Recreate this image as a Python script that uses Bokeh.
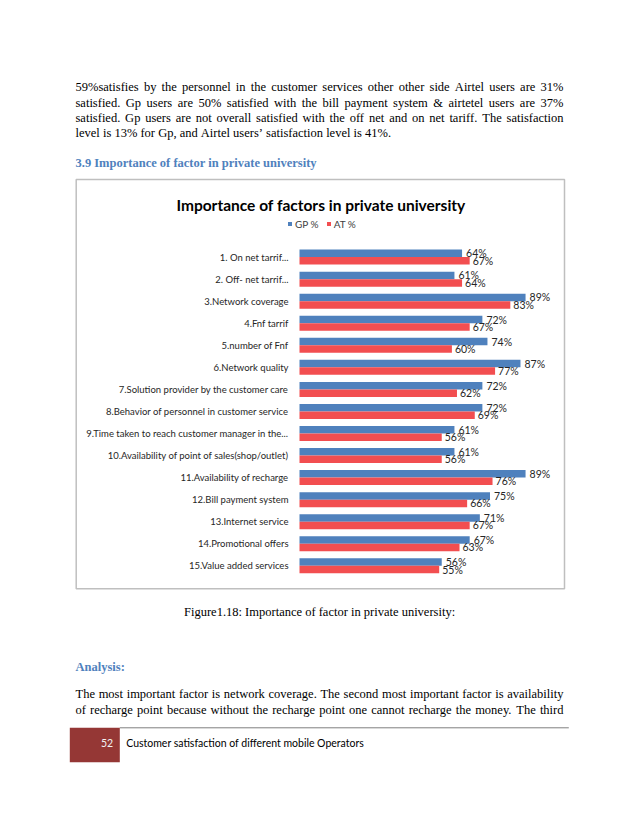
from bokeh.plotting import figure
from bokeh.models import (Range1d, Legend, LegendItem, ColumnDataSource, LinearAxis,
                          FixedTicker)
from bokeh.transform import dodge
from bokeh.core.properties import value
from bokeh.embed import file_html
from bokeh.resources import INLINE

# ---------------- data ----------------
categories = [
    "1. On net tarrif...",
    "2. Off- net tarrif...",
    "3.Network coverage",
    "4.Fnf tarrif",
    "5.number of Fnf",
    "6.Network quality",
    "7.Solution provider by the customer care",
    "8.Behavior of personnel in customer service",
    "9.Time taken to reach customer manager in the...",
    "10.Availability of point of sales(shop/outlet)",
    "11.Availability of recharge",
    "12.Bill payment system",
    "13.Internet service",
    "14.Promotional offers",
    "15.Value added services",
]
gp_values = [64, 61, 89, 72, 74, 87, 72, 72, 61, 61, 89, 75, 71, 67, 56]
at_values = [67, 64, 83, 67, 60, 77, 62, 69, 56, 56, 76, 66, 67, 63, 55]
series_names = ["GP %", "AT %"]
chart_title = "Importance of factors in private university"

para1_lines = [
    "59%satisfies by the personnel in the customer services other other side Airtel users are 31%",
    "satisfied. Gp users are 50% satisfied with the bill payment system & airtetel users are 37%",
    "satisfied. Gp users are not overall satisfied with the off net and on net tariff. The satisfaction",
    "level is 13% for Gp, and Airtel users\u2019 satisfaction level is 41%.",
]
heading_text = "3.9 Importance of factor in private university"
caption_text = "Figure1.18: Importance of factor in private university:"
analysis_text = "Analysis:"
para2_lines = [
    "The most important factor is network coverage. The second most important factor is availability",
    "of recharge point because without the recharge point one cannot recharge the money. The third",
]
footer_page = "52"
footer_text = "Customer satisfaction of different  mobile Operators"

# ---------------- layout constants (page pixels) ----------------
W, H = 622, 810
ZERO_X = 299.0        # page x of 0 %
PX_PER_PCT = 2.54
ROW0_Y = 256.6        # page y of first category centre
ROW_PITCH = 22.05

BLUE = "#4F81BD"
RED = "#F24E50"
HEAD = "#4F81BD"
SERIF = "Liberation Serif"
SANS = "Lato"

TNR = {' ': 250, '!': 333, '%': 833, '&': 778, "'": 180, '\u2019': 333, '(': 333, ')': 333,
       ',': 250, '-': 333, '.': 250, '/': 278, ':': 278, ';': 278, '?': 444,
       'A': 722, 'B': 667, 'C': 667, 'D': 722, 'E': 611, 'F': 556, 'G': 722, 'H': 722,
       'I': 333, 'J': 389, 'K': 722, 'L': 611, 'M': 889, 'N': 722, 'O': 722, 'P': 556,
       'Q': 722, 'R': 667, 'S': 556, 'T': 611, 'U': 722, 'V': 722, 'W': 944, 'X': 722,
       'Y': 722, 'Z': 611,
       'a': 444, 'b': 500, 'c': 444, 'd': 500, 'e': 444, 'f': 333, 'g': 500, 'h': 500,
       'i': 278, 'j': 278, 'k': 500, 'l': 278, 'm': 778, 'n': 500, 'o': 500, 'p': 500,
       'q': 500, 'r': 333, 's': 389, 't': 278, 'u': 500, 'v': 500, 'w': 722, 'x': 500,
       'y': 500, 'z': 444}
for d in "0123456789":
    TNR[d] = 500

# ---------------- figure: frame = whole page, default ranges in page px ----------------
p = figure(width=W, height=H, output_backend="svg", toolbar_location=None, title=None,
           x_range=Range1d(0, W), y_range=Range1d(H, 0),
           x_axis_location=None, y_axis_location=None,
           min_border=0, min_border_left=0, min_border_right=0,
           min_border_top=0, min_border_bottom=0,
           background_fill_color="white", border_fill_color="white",
           outline_line_color=None)
p.xgrid.visible = False
p.ygrid.visible = False

# chart ranges (percent on x, row index on y)
p.extra_x_ranges = {"pct": Range1d(-ZERO_X / PX_PER_PCT, (W - ZERO_X) / PX_PER_PCT)}
p.extra_y_ranges = {"rows": Range1d((H - ROW0_Y) / ROW_PITCH, -ROW0_Y / ROW_PITCH)}

rows = list(range(len(categories)))
src = ColumnDataSource(dict(
    row=rows, cat=categories, gp=gp_values, at=at_values,
    gp_lbl=[f"{v}%" for v in gp_values],
    at_lbl=[f"{v}%" for v in at_values],
))

# chart border box (page decoration)
p.quad(left=[75.7], right=[564], top=[179], bottom=[588.3],
       fill_color=None, line_color="#BFBFBF", line_width=1.5)

r_gp = p.hbar(y=dodge("row", -0.17), left=0, right="gp", height=0.34, source=src,
              fill_color=BLUE, line_color=None, x_range_name="pct", y_range_name="rows")
r_at = p.hbar(y=dodge("row", 0.17), left=0, right="at", height=0.34, source=src,
              fill_color=RED, line_color=None, x_range_name="pct", y_range_name="rows")

p.text(x="gp", y=dodge("row", -0.17), text="gp_lbl", source=src,
       x_range_name="pct", y_range_name="rows",
       x_offset=4, text_font=value(SANS), text_font_size=value("10.5px"),
       text_baseline="middle", text_align="left", text_color="#262626")
p.text(x="at", y=dodge("row", 0.17), text="at_lbl", source=src,
       x_range_name="pct", y_range_name="rows",
       x_offset=3, text_font=value(SANS), text_font_size=value("10.5px"),
       text_baseline="middle", text_align="left", text_color="#262626")

# category axis sitting at 0 %
cat_axis = LinearAxis(y_range_name="rows", x_range_name="pct",
                      ticker=FixedTicker(ticks=rows),
                      major_label_overrides={r: c for r, c in zip(rows, categories)},
                      fixed_location=0)
cat_axis.axis_line_color = None
cat_axis.major_tick_line_color = None
cat_axis.minor_tick_line_color = None
cat_axis.major_tick_out = 0
cat_axis.major_tick_in = 0
cat_axis.major_label_standoff = 11
cat_axis.major_label_text_font = SANS
cat_axis.major_label_text_font_size = "9.5px"
cat_axis.major_label_text_color = "#262626"
p.add_layout(cat_axis, "left")

legend = Legend(items=[LegendItem(label=series_names[0], renderers=[r_gp]),
                       LegendItem(label=series_names[1], renderers=[r_at])],
                orientation="horizontal",
                location=(287.0, H - 229.5),
                padding=0, margin=0, spacing=7, glyph_width=5, glyph_height=5,
                label_standoff=3, label_height=10, label_text_font=SANS,
                label_text_font_size="10px", label_text_color="#404040",
                border_line_color=None, background_fill_alpha=0)
p.add_layout(legend)

# chart title
p.text(x=[320.5], y=[204], text=[chart_title], text_font=value(SANS),
       text_font_style="bold", text_font_size=value("15.5px"),
       text_align="center", text_baseline="alphabetic", text_color="black")

# ---------------- page text ----------------
BODY = 12.5
X0, X1 = 75, 563

def word_width(w, size):
    return sum(TNR.get(c, 500) for c in w) * size / 1000.0

words_x, words_y, words_t = [], [], []

def place_line(line, baseline, justify):
    words = line.split(" ")
    widths = [word_width(w, BODY) for w in words]
    if justify and len(words) > 1:
        gap = (X1 - X0 - sum(widths)) / (len(words) - 1)
    else:
        gap = 250 * BODY / 1000.0
    x = X0
    for w, wd in zip(words, widths):
        words_x.append(x)
        words_y.append(baseline)
        words_t.append(w)
        x += wd + gap

for i, line in enumerate(para1_lines):
    place_line(line, 86.8 + 15.3 * i, justify=(i < len(para1_lines) - 1))
for i, line in enumerate(para2_lines):
    place_line(line, 693 + 16.6 * i, justify=True)

p.text(x=words_x, y=words_y, text=words_t, text_font=value(SERIF),
       text_font_size=value(f"{BODY}px"), text_align="left",
       text_baseline="alphabetic", text_color="black")

p.text(x=[75, 75], y=[162, 666], text=[heading_text, analysis_text],
       text_font=value(SERIF), text_font_style="bold",
       text_font_size=value(f"{BODY}px"), text_align="left",
       text_baseline="alphabetic", text_color=HEAD)

p.text(x=[183.5], y=[611.5], text=[caption_text], text_font=value(SERIF),
       text_font_size=value(f"{BODY}px"), text_align="left",
       text_baseline="alphabetic", text_color="black")

# ---------------- footer ----------------
p.segment(x0=[119.3], y0=[727.3], x1=[568.3], y1=[727.3],
          line_color="#7F7F7F", line_width=1)
p.quad(left=[69.3], right=[119.3], top=[727.3], bottom=[761.7],
       fill_color="#953735", line_color=None)
p.text(x=[112.7], y=[742], text=[footer_page], text_font=value(SANS),
       text_font_size=value("10.5px"), text_align="right",
       text_baseline="alphabetic", text_color="#F2F2F2")
p.text(x=[125.7], y=[742], text=[footer_text], text_font=value(SANS),
       text_font_size=value("10.5px"), text_align="left",
       text_baseline="alphabetic", text_color="black")

open("out.html", "w").write(file_html(p, INLINE))
